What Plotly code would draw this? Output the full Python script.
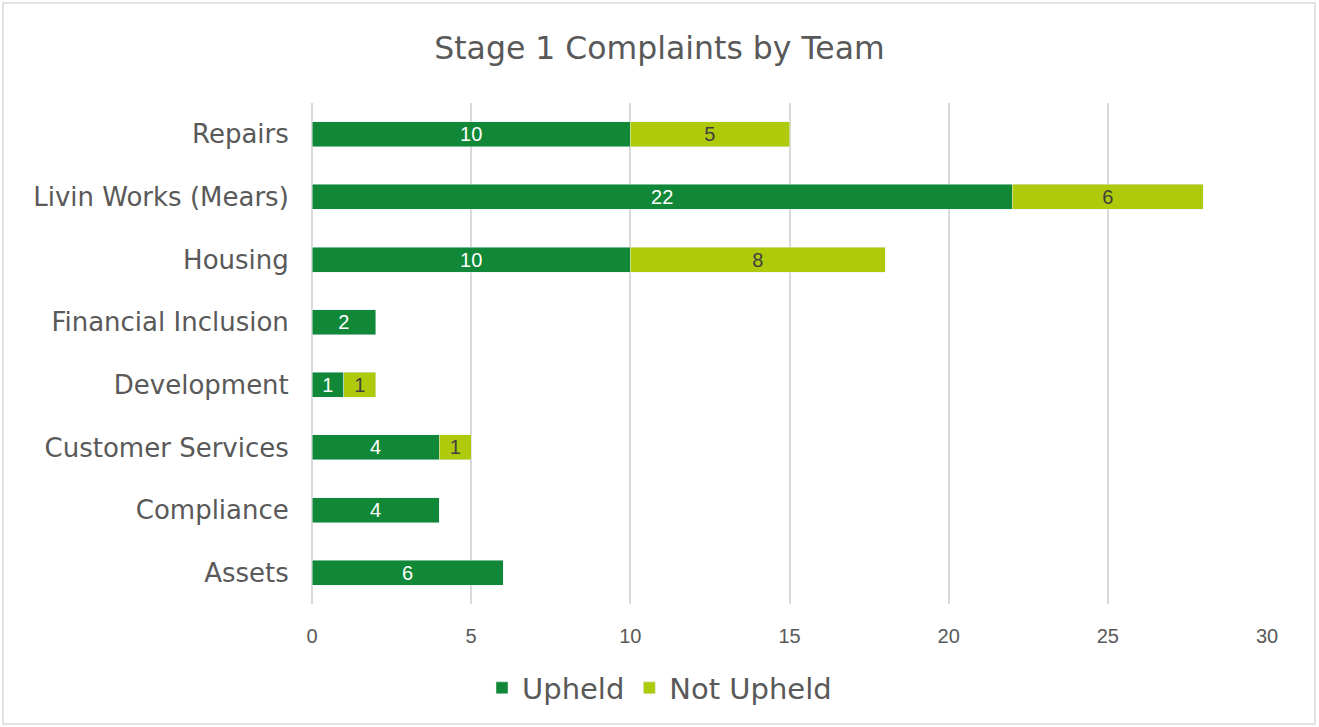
import plotly.graph_objects as go

teams = ["Repairs", "Livin Works (Mears)", "Housing", "Financial Inclusion",
         "Development", "Customer Services", "Compliance", "Assets"]
upheld = [10, 22, 10, 2, 1, 4, 4, 6]
not_upheld = [5, 6, 8, None, 1, 1, None, None]
x_ticks = [0, 5, 10, 15, 20, 25, 30]

FONT = "DejaVu Sans"
NUMFONT = "Liberation Sans"
GRAY = "#595959"
GRID = "#d9d9d9"

fig = go.Figure()
fig.add_trace(go.Bar(
    y=teams, x=upheld, orientation="h", name="Upheld",
    marker=dict(color="#108837"),
    text=[str(v) for v in upheld], textposition="inside",
    insidetextanchor="middle", textangle=0,
    textfont=dict(color="white", size=20, family=NUMFONT),
))
fig.add_trace(go.Bar(
    y=teams, x=not_upheld, orientation="h", name="Not Upheld",
    marker=dict(color="#AFCA0B"),
    text=[str(v) if v else "" for v in not_upheld], textposition="inside",
    insidetextanchor="middle", textangle=0,
    textfont=dict(color="#404040", size=20, family=NUMFONT),
))

fig.update_layout(
    barmode="stack", bargap=0.6,
    width=1319, height=727,
    paper_bgcolor="white", plot_bgcolor="white",
    margin=dict(l=312, r=51, t=103, b=123, autoexpand=False),
    font=dict(family=FONT, color=GRAY),
    title=dict(text="Stage 1 Complaints by Team", x=0.5, xref="container",
               xanchor="center", y=1 - 48 / 727, yanchor="middle",
               font=dict(size=31.5, color=GRAY, family=FONT)),
    legend=dict(orientation="h", xref="container", yref="container",
                x=0.5, xanchor="center", y=1 - 688 / 727, yanchor="middle",
                font=dict(size=29, color=GRAY, family=FONT),
                itemwidth=30, traceorder="normal"),
    uniformtext=dict(minsize=20, mode="show"),
)
fig.update_xaxes(range=[0, 30.03], tickvals=x_ticks, showgrid=True,
                 gridcolor=GRID, gridwidth=1.5, zeroline=True,
                 zerolinecolor=GRID, zerolinewidth=1.5,
                 showline=False, ticks="outside", ticklen=14,
                 tickcolor="rgba(0,0,0,0)",
                 tickfont=dict(size=20, color=GRAY, family=NUMFONT),
                 fixedrange=True)
fig.update_yaxes(autorange="reversed", showgrid=False, showline=False,
                 ticks="outside", ticklen=17, tickcolor="rgba(0,0,0,0)",
                 tickfont=dict(size=26, color=GRAY), fixedrange=True)

fig.add_shape(type="rect", xref="paper", yref="paper",
              x0=(3 - 312) / 956, x1=(1315 - 312) / 956,
              y0=(604 - 724) / 501, y1=(604 - 3) / 501,
              line=dict(color=GRID, width=1.5), layer="below")

fig.write_html("out.html", config={"displayModeBar": False},
               post_script="document.body.style.margin='0';document.body.style.overflow='hidden';")
